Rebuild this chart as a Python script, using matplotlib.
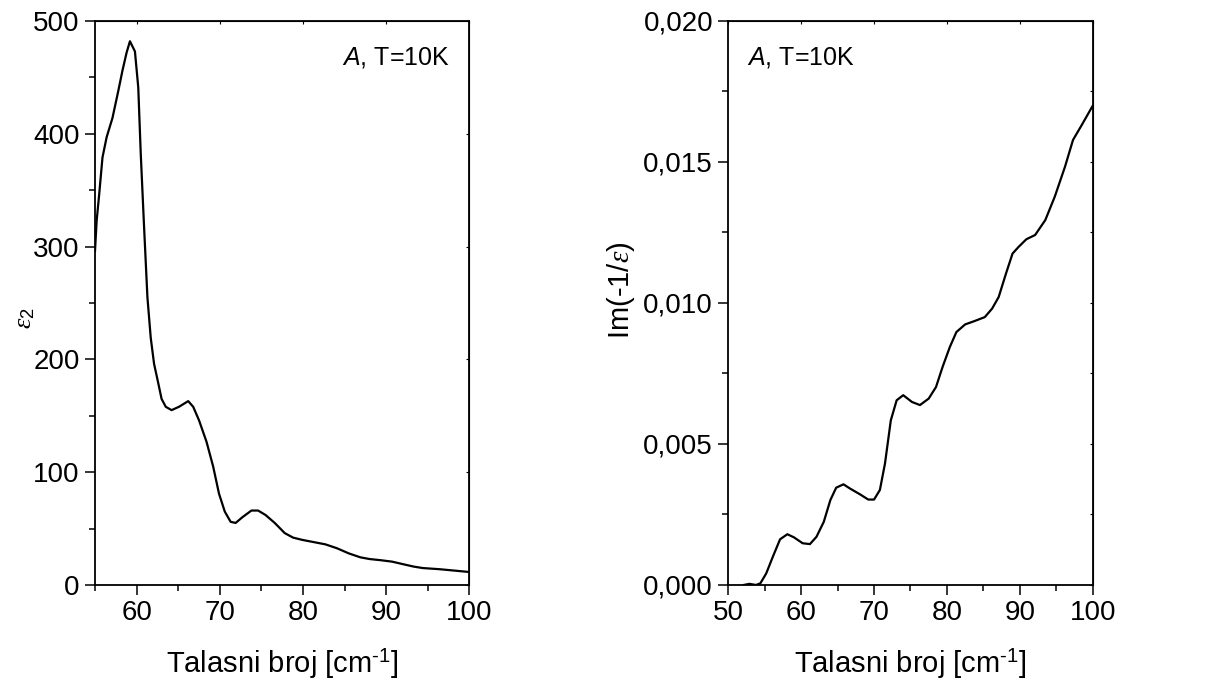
import matplotlib
matplotlib.use("Agg")
import matplotlib.pyplot as plt
from matplotlib.ticker import MultipleLocator, FixedLocator, FixedFormatter

plt.rcParams['font.family'] = ['Liberation Sans', 'DejaVu Sans']
plt.rcParams['mathtext.fontset'] = 'custom'
plt.rcParams['mathtext.rm'] = 'Liberation Sans'
plt.rcParams['mathtext.sf'] = 'Liberation Sans:italic'
plt.rcParams['mathtext.it'] = 'Liberation Serif:italic'

# left panel: eps2 vs wavenumber
eps2_x = [55.0, 55.2, 55.5, 55.9, 56.4, 57.1, 57.8, 58.3, 58.8, 59.2, 59.8, 60.2, 60.5,
          60.9, 61.3, 61.7, 62.1, 62.6, 63.0, 63.5, 64.2, 65.1, 66.2, 66.8, 67.5, 68.4,
          69.2, 69.9, 70.6, 71.3, 71.9, 72.7, 73.8, 74.6, 75.5, 76.6, 77.8, 78.8, 79.9,
          81.3, 82.7, 84.1, 85.5, 86.9, 88.0, 89.3, 90.7, 92.1, 93.3, 94.4, 96.4, 100.0]
eps2_y = [296, 323, 346, 379, 397, 414, 438, 456, 472, 482, 473, 441, 382,
          317, 255, 219, 196, 179, 165, 158, 155, 158, 163, 158, 146, 127,
          105, 81, 65, 56, 55, 60, 66, 66, 62, 55, 46, 42, 40,
          38, 36, 32.5, 28, 24.5, 23, 22, 20.7, 18.3, 16.3, 15, 14, 11.5]

# right panel: Im(-1/eps) vs wavenumber
loss_x = [52.1, 52.9, 53.8, 54.4, 55.2, 56.2, 57.1, 58.1, 59.0, 60.2, 61.2, 62.1, 63.1,
          64.0, 64.8, 65.8, 66.7, 68.1, 69.2, 70.0, 70.8, 71.5, 72.3, 73.1, 74.0, 75.2,
          76.3, 77.5, 78.5, 79.4, 80.4, 81.3, 82.5, 83.8, 85.2, 86.2, 87.1, 88.1, 89.0,
          89.8, 90.9, 92.1, 93.5, 94.8, 96.2, 97.3, 98.5, 100.0]
loss_y = [0.0, 0.00004, 0.0, 0.00006, 0.00041, 0.00106, 0.00162, 0.0018, 0.00169, 0.00148,
          0.00145, 0.00171, 0.00224, 0.00301, 0.00345, 0.00357, 0.00342, 0.00321, 0.00303,
          0.00303, 0.00337, 0.00431, 0.00584, 0.00655, 0.00673, 0.00649, 0.00638, 0.00661,
          0.00702, 0.00773, 0.00844, 0.00897, 0.00924, 0.00936, 0.0095, 0.0098, 0.01021,
          0.01104, 0.01175, 0.01198, 0.01226, 0.01241, 0.01294, 0.01377, 0.01483, 0.01578,
          0.01631, 0.01699]

left_yticks = [0, 100, 200, 300, 400, 500]
left_xticks = [60, 70, 80, 90, 100]
right_yticks = [0.0, 0.005, 0.010, 0.015, 0.020]
right_ylabels = ["0,000", "0,005", "0,010", "0,015", "0,020"]
right_xticks = [50, 60, 70, 80, 90, 100]

xlabel = r'Talasni broj [cm$^{\text{-1}}$]'

fig = plt.figure(figsize=(12.21, 6.85), dpi=100)
ax1 = fig.add_axes([0.0778, 0.146, 0.3067, 0.8234])
ax2 = fig.add_axes([0.5965, 0.146, 0.2984, 0.8234])


def style(ax):
    for s in ax.spines.values():
        s.set_linewidth(1.3)
    ax.tick_params(which='both', direction='out', width=1.1, labelsize=20,
                   top=False, right=False)
    ax.tick_params(which='major', length=7, pad=4)
    ax.tick_params(which='minor', length=4)
    ax.secondary_xaxis('top').tick_params(which='both', direction='in', length=2,
                                          labeltop=False)
    ax.secondary_yaxis('right').tick_params(which='both', direction='in', length=2,
                                            labelright=False)


ax1.plot(eps2_x, eps2_y, color='black', lw=1.6)
ax1.set_xlim(55, 100)
ax1.set_ylim(0, 500)
ax1.xaxis.set_major_locator(FixedLocator(left_xticks))
ax1.xaxis.set_minor_locator(MultipleLocator(5))
ax1.yaxis.set_major_locator(FixedLocator(left_yticks))
ax1.yaxis.set_minor_locator(MultipleLocator(50))
ax1.set_xlabel(xlabel, fontsize=21, labelpad=15)
ax1.set_ylabel(r'$\varepsilon_{\mathit{2}}$', fontsize=19)
ax1.yaxis.set_label_coords(-0.155, 0.473)
ax1.text(0.948, 0.935, r'$\mathsf{A}$, T=10K', transform=ax1.transAxes,
         ha='right', va='center', fontsize=18)

ax2.plot(loss_x, loss_y, color='black', lw=1.6)
ax2.set_xlim(50, 100)
ax2.set_ylim(0, 0.02)
ax2.xaxis.set_major_locator(FixedLocator(right_xticks))
ax2.xaxis.set_minor_locator(MultipleLocator(5))
ax2.yaxis.set_major_locator(FixedLocator(right_yticks))
ax2.yaxis.set_major_formatter(FixedFormatter(right_ylabels))
ax2.yaxis.set_minor_locator(MultipleLocator(0.0025))
ax2.set_xlabel(xlabel, fontsize=21, labelpad=15)
ax2.set_ylabel(r'Im(-1/$\varepsilon$)', fontsize=21)
ax2.yaxis.set_label_coords(-0.25, 0.523)
ax2.text(0.051, 0.935, r'$\mathsf{A}$, T=10K', transform=ax2.transAxes,
         ha='left', va='center', fontsize=18)

for ax in (ax1, ax2):
    style(ax)

fig.savefig("out.png", dpi=100)
